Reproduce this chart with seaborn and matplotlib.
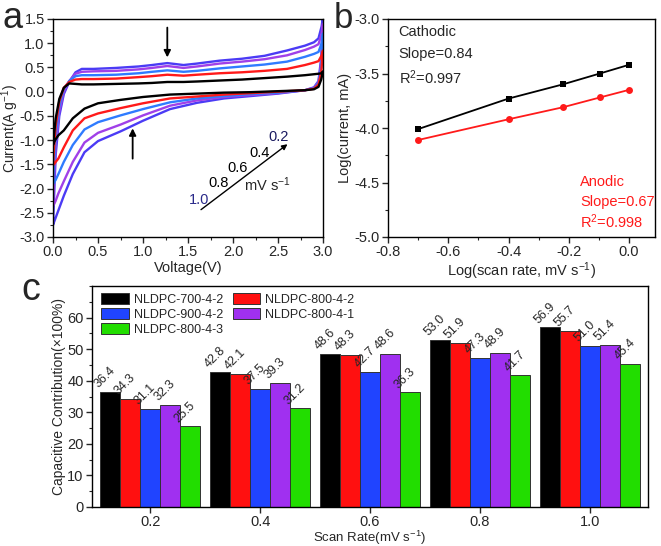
import numpy as np
import pandas as pd
import matplotlib
matplotlib.use("Agg")
import matplotlib.pyplot as plt
import seaborn as sns
from matplotlib.ticker import MultipleLocator, FormatStrFormatter

sns.set_style("ticks")
plt.rcParams['font.family'] = ['Liberation Sans', 'DejaVu Sans']
plt.rcParams['mathtext.fontset'] = 'custom'
plt.rcParams['mathtext.rm'] = 'Liberation Sans'
plt.rcParams['mathtext.it'] = 'Liberation Sans'

# ---------------- Panel a data (CV curves) ----------------
v_fwd = [0.00, 0.03, 0.07, 0.12, 0.18, 0.25, 0.32, 0.45, 0.7, 0.95, 1.1, 1.27, 1.45, 1.6,
         1.85, 2.1, 2.35, 2.6, 2.8, 2.9, 2.95, 2.985, 3.0]
v_rev = [3.0, 2.98, 2.95, 2.9, 2.8, 2.5, 2.2, 1.9, 1.6, 1.3, 1.0, 0.75, 0.5, 0.35, 0.22,
         0.12, 0.06, 0.03, 0.01, 0.0]

cv_rates = ["0.2", "0.4", "0.6", "0.8", "1.0"]
cv_colors = ["#000000", "#FF1A1A", "#2F7BFF", "#A040E8", "#4B3BF5"]

i_fwd_02 = [-1.1, -0.55, -0.15, 0.08, 0.17, 0.16, 0.15, 0.15, 0.16, 0.17, 0.18, 0.2, 0.2, 0.21,
            0.23, 0.25, 0.28, 0.31, 0.34, 0.36, 0.37, 0.38, 0.42]
i_rev_02 = [0.42, 0.25, 0.1, 0.05, 0.03, 0.01, -0.01, -0.02, -0.04, -0.06, -0.11, -0.17, -0.24,
            -0.35, -0.55, -0.8, -0.9, -0.98, -1.05, -1.1]
i_fwd_04 = [-1.5, -0.7, -0.2, 0.08, 0.2, 0.25, 0.26, 0.26, 0.27, 0.3, 0.32, 0.35, 0.33, 0.35,
            0.38, 0.4, 0.43, 0.47, 0.55, 0.6, 0.63, 0.75, 0.85]
i_rev_04 = [0.85, 0.4, 0.15, 0.06, 0.03, 0.0, -0.03, -0.06, -0.1, -0.14, -0.24, -0.34, -0.45,
            -0.55, -0.8, -1.15, -1.38, -1.45, -1.5, -1.52]
i_fwd_06 = [-1.9, -0.9, -0.3, 0.05, 0.22, 0.32, 0.34, 0.34, 0.35, 0.38, 0.41, 0.44, 0.41, 0.43,
            0.48, 0.52, 0.56, 0.62, 0.72, 0.78, 0.82, 1.0, 1.2]
i_rev_06 = [1.2, 0.5, 0.18, 0.07, 0.03, -0.02, -0.05, -0.09, -0.14, -0.22, -0.36, -0.49, -0.63,
            -0.78, -1.1, -1.45, -1.7, -1.82, -1.88, -1.9]
i_fwd_08 = [-2.35, -1.1, -0.4, 0.0, 0.22, 0.37, 0.41, 0.42, 0.43, 0.46, 0.49, 0.53, 0.49, 0.52,
            0.58, 0.62, 0.67, 0.75, 0.86, 0.93, 0.98, 1.2, 1.4]
i_rev_08 = [1.4, 0.6, 0.2, 0.08, 0.03, -0.03, -0.07, -0.11, -0.18, -0.29, -0.49, -0.68, -0.85,
            -1.05, -1.45, -1.85, -2.1, -2.25, -2.33, -2.35]
i_fwd_10 = [-2.75, -1.3, -0.5, -0.05, 0.2, 0.4, 0.47, 0.47, 0.49, 0.52, 0.55, 0.59, 0.55, 0.58,
            0.64, 0.68, 0.74, 0.85, 0.95, 1.02, 1.1, 1.35, 1.55]
i_rev_10 = [1.55, 0.7, 0.22, 0.09, 0.03, -0.04, -0.09, -0.14, -0.23, -0.36, -0.6, -0.82, -1.02,
            -1.25, -1.7, -2.15, -2.45, -2.6, -2.7, -2.75]

cv_fwd = [i_fwd_02, i_fwd_04, i_fwd_06, i_fwd_08, i_fwd_10]
cv_rev = [i_rev_02, i_rev_04, i_rev_06, i_rev_08, i_rev_10]

# ---------------- Panel b data ----------------
log_rate = [-0.7, -0.4, -0.22, -0.097, 0.0]
log_cath = [-4.01, -3.73, -3.60, -3.50, -3.42]
log_anod = [-4.11, -3.92, -3.81, -3.72, -3.65]

# ---------------- Panel c data ----------------
scan_rates = ["0.2", "0.4", "0.6", "0.8", "1.0"]
samples = ["NLDPC-700-4-2", "NLDPC-800-4-2", "NLDPC-900-4-2", "NLDPC-800-4-1", "NLDPC-800-4-3"]
bar_colors = ["#000000", "#FF1010", "#2044FF", "#A030F0", "#22DD00"]
cap_700_4_2 = [36.4, 42.8, 48.6, 53.0, 56.9]
cap_800_4_2 = [34.3, 42.1, 48.3, 51.9, 55.7]
cap_900_4_2 = [31.1, 37.5, 42.7, 47.3, 51.0]
cap_800_4_1 = [32.3, 39.3, 48.6, 48.9, 51.4]
cap_800_4_3 = [25.5, 31.2, 36.3, 41.7, 45.4]
cap_values = [cap_700_4_2, cap_800_4_2, cap_900_4_2, cap_800_4_1, cap_800_4_3]

W, H = 661, 546
fig = plt.figure(figsize=(W / 100, H / 100), dpi=100)

def box(l, t, r, b):
    return [l / W, 1 - b / H, (r - l) / W, (b - t) / H]

TICK_FS = 10.5
LAB_FS = 10.5

# ---------------- Panel a ----------------
axa = fig.add_axes(box(53, 19, 323, 237))
rows = []
for rate, fw, rv in zip(cv_rates, cv_fwd, cv_rev):
    k = 0
    for v, i in zip(v_fwd, fw):
        rows.append((rate, k, v, i)); k += 1
    for v, i in zip(v_rev, rv):
        rows.append((rate, k, v, i)); k += 1
cv_df = pd.DataFrame(rows, columns=["rate", "order", "V", "I"])
sns.lineplot(data=cv_df, x="V", y="I", hue="rate", hue_order=cv_rates[::-1],
             palette=dict(zip(cv_rates, cv_colors)), sort=False, estimator=None,
             units="rate", lw=1.7, legend=False, ax=axa)
axa.set_xlim(0, 3.0)
axa.set_ylim(-3.0, 1.5)
axa.xaxis.set_major_locator(MultipleLocator(0.5))
axa.yaxis.set_major_locator(MultipleLocator(0.5))
axa.xaxis.set_minor_locator(MultipleLocator(0.25))
axa.yaxis.set_minor_locator(MultipleLocator(0.25))
axa.xaxis.set_major_formatter(FormatStrFormatter('%.1f'))
axa.yaxis.set_major_formatter(FormatStrFormatter('%.1f'))
axa.set_xlabel("Voltage(V)", fontsize=LAB_FS, labelpad=1)
axa.set_ylabel(r"Current(A g$^{-1}$)", fontsize=10)
axa.yaxis.set_label_coords(-0.12, 0.5)
axa.annotate("", xy=(1.27, 0.65), xytext=(1.27, 1.38),
             arrowprops=dict(arrowstyle="-|>", color="k", lw=1.3, mutation_scale=10))
axa.annotate("", xy=(0.885, -0.70), xytext=(0.885, -1.44),
             arrowprops=dict(arrowstyle="-|>", color="k", lw=1.3, mutation_scale=10))
axa.annotate("", xy=(2.63, -1.05), xytext=(1.62, -2.47),
             arrowprops=dict(arrowstyle="-|>", color="k", lw=1.0, mutation_scale=8))
for txt, x, y, c in [("0.2", 2.51, -0.93, "#1a1a60"), ("0.4", 2.29, -1.27, "k"),
                     ("0.6", 2.05, -1.58, "k"), ("0.8", 1.84, -1.89, "k"),
                     ("1.0", 1.62, -2.23, "#2a2a8a")]:
    axa.text(x, y, txt, fontsize=10.5, color=c, ha="center", va="center")
axa.text(2.38, -1.92, r"mV s$^{-1}$", fontsize=10.5, ha="center", va="center")
fig.text(13 / W, 1 - 18 / H, "a", fontsize=26, ha="center", va="center")

# ---------------- Panel b ----------------
axb = fig.add_axes(box(388, 19, 655, 237))
b_df = pd.DataFrame({"x": log_rate * 2, "y": log_cath + log_anod,
                     "kind": ["Cathodic"] * 5 + ["Anodic"] * 5})
sns.lineplot(data=b_df, x="x", y="y", hue="kind", style="kind",
             palette={"Cathodic": "black", "Anodic": "#FF1A1A"},
             markers={"Cathodic": "s", "Anodic": "o"}, dashes=False,
             markersize=5, markeredgewidth=0, lw=1.3, legend=False, ax=axb)
axb.set_xlim(-0.8, 0.086)
axb.set_ylim(-5.0, -3.0)
axb.xaxis.set_major_locator(MultipleLocator(0.2))
axb.xaxis.set_minor_locator(MultipleLocator(0.1))
axb.yaxis.set_major_locator(MultipleLocator(0.5))
axb.yaxis.set_minor_locator(MultipleLocator(0.25))
axb.xaxis.set_major_formatter(FormatStrFormatter('%.1f'))
axb.yaxis.set_major_formatter(FormatStrFormatter('%.1f'))
axb.set_xlabel(r"Log(scan rate, mV s$^{-1}$)", fontsize=LAB_FS, labelpad=1)
axb.set_ylabel("Log(current, mA)", fontsize=LAB_FS)
axb.yaxis.set_label_coords(-0.135, 0.5)
axb.text(0.04, 0.94, "Cathodic", transform=axb.transAxes, fontsize=10.5, va="center")
axb.text(0.04, 0.84, "Slope=0.84", transform=axb.transAxes, fontsize=10.5, va="center")
axb.text(0.04, 0.73, r"R$^2$=0.997", transform=axb.transAxes, fontsize=10.5, va="center")
axb.text(0.72, 0.25, "Anodic", transform=axb.transAxes, fontsize=10.5, va="center", color="#FF1A1A")
axb.text(0.72, 0.16, "Slope=0.67", transform=axb.transAxes, fontsize=10.5, va="center", color="#FF1A1A")
axb.text(0.72, 0.07, r"R$^2$=0.998", transform=axb.transAxes, fontsize=10.5, va="center", color="#FF1A1A")
fig.text(343 / W, 1 - 18 / H, "b", fontsize=25, ha="center", va="center")

# ---------------- Panel c ----------------
axc = fig.add_axes(box(92, 286, 648, 507))
c_rows = []
for s, vals in zip(samples, cap_values):
    for r, v in zip(scan_rates, vals):
        c_rows.append((r, s, v))
c_df = pd.DataFrame(c_rows, columns=["rate", "sample", "value"])
sns.barplot(data=c_df, x="rate", y="value", hue="sample", hue_order=samples,
            order=scan_rates, palette=dict(zip(samples, bar_colors)), width=0.91,
            saturation=1, edgecolor="#333333", linewidth=0.7, errorbar=None, ax=axc)
for cont in axc.containers:
    for bar in cont:
        h = bar.get_height()
        axc.text(bar.get_x() + 0.005, h + 0.5, f"{h:.1f}", rotation=45, rotation_mode="anchor",
                 ha="left", va="bottom", fontsize=9, zorder=5)
axc.set_xlim(-0.53, 4.53)
axc.set_ylim(0, 70)
axc.set_yticks([0, 10, 20, 30, 40, 50, 60])
axc.yaxis.set_minor_locator(MultipleLocator(5))
axc.set_xlabel(r"Scan Rate(mV s$^{-1}$)", fontsize=9.5)
axc.xaxis.set_label_coords(0.5, -0.098)
axc.set_ylabel(r"Capacitive Contribution(×100%)", fontsize=10)
axc.yaxis.set_label_coords(-0.047, 0.5)
handles, labels = axc.get_legend_handles_labels()
order = [0, 2, 4, 1, 3]
leg = axc.legend([handles[i] for i in order], [labels[i] for i in order], ncol=2,
                 loc="upper left", bbox_to_anchor=(0.005, 0.995), fontsize=9,
                 frameon=False, handlelength=2.2, handleheight=0.9, labelspacing=0.2,
                 columnspacing=0.8, handletextpad=0.4, borderaxespad=0.1)
fig.text(31 / W, 1 - 290 / H, "c", fontsize=27, ha="center", va="center")

for ax in (axa, axb, axc):
    for sp in ax.spines.values():
        sp.set_visible(True)
        sp.set_linewidth(1.0)
        sp.set_color("black")
    ax.tick_params(which="major", direction="out", length=4, width=1, labelsize=TICK_FS, pad=2)
    ax.tick_params(which="minor", direction="out", length=2, width=0.8)
axc.tick_params(which="major", labelsize=10.5)
axc.tick_params(axis="x", which="minor", bottom=False)
axc.tick_params(axis="x", which="major", pad=1.5)

fig.savefig("out.png", dpi=100)
